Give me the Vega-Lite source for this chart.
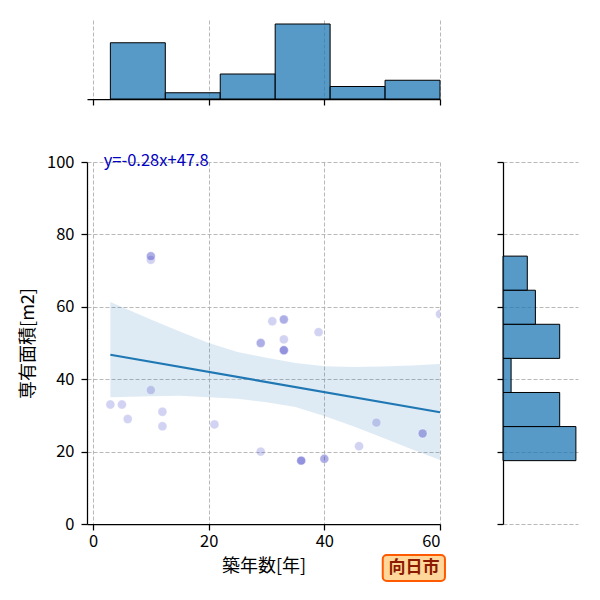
{
  "$schema": "https://vega.github.io/schema/vega-lite/v6.json",
  "padding": {"left": 19, "top": 20, "right": 5, "bottom": 5},
  "bounds": "flush",
  "spacing": 63,
  "config": {
    "font": "Noto Sans CJK JP",
    "view": {"stroke": null},
    "axis": {
      "domainColor": "black",
      "domainWidth": 1.25,
      "tickColor": "black",
      "tickWidth": 1.25,
      "tickSize": 6,
      "labelColor": "black",
      "labelFont": "Noto Sans CJK JP",
      "labelFontSize": 16.5,
      "titleFont": "Noto Sans CJK JP",
      "titleFontSize": 18,
      "titleFontWeight": "normal",
      "titleColor": "black",
      "gridColor": "#b0b0b0",
      "gridDash": [4, 2],
      "gridWidth": 0.9
    }
  },
  "datasets": {
    "pts": [
      {"age": 3, "area": 33}, {"age": 5, "area": 33}, {"age": 6, "area": 29},
      {"age": 10, "area": 74}, {"age": 10, "area": 73}, {"age": 10, "area": 74},
      {"age": 10, "area": 37}, {"age": 12, "area": 31}, {"age": 12, "area": 27},
      {"age": 21, "area": 27.5}, {"age": 29, "area": 20}, {"age": 29, "area": 50},
      {"age": 29, "area": 50}, {"age": 31, "area": 56}, {"age": 33, "area": 56.5},
      {"age": 33, "area": 56.5}, {"age": 33, "area": 51}, {"age": 33, "area": 48},
      {"age": 33, "area": 48}, {"age": 33, "area": 48}, {"age": 36, "area": 17.5},
      {"age": 36, "area": 17.5}, {"age": 36, "area": 17.5}, {"age": 39, "area": 53},
      {"age": 40, "area": 18}, {"age": 40, "area": 18}, {"age": 46, "area": 21.5},
      {"age": 49, "area": 28}, {"age": 57, "area": 25}, {"age": 57, "area": 25},
      {"age": 60, "area": 58}
    ],
    "band": [
      {"age": 3, "lo": 35.0, "hi": 61.3},
      {"age": 10, "lo": 35.3, "hi": 56.5},
      {"age": 15, "lo": 35.4, "hi": 53.2},
      {"age": 20, "lo": 35.0, "hi": 50.0},
      {"age": 25, "lo": 34.6, "hi": 47.5},
      {"age": 30, "lo": 33.6, "hi": 45.9},
      {"age": 35, "lo": 32.3, "hi": 44.5},
      {"age": 40, "lo": 29.8, "hi": 43.6},
      {"age": 45, "lo": 27.0, "hi": 43.4},
      {"age": 50, "lo": 23.9, "hi": 43.5},
      {"age": 55, "lo": 20.7, "hi": 43.8},
      {"age": 60, "lo": 17.7, "hi": 44.2}
    ],
    "histx": [
      {"b0": 3, "b1": 12.5, "n": 9},
      {"b0": 12.5, "b1": 22, "n": 1},
      {"b0": 22, "b1": 31.5, "n": 4},
      {"b0": 31.5, "b1": 41, "n": 12},
      {"b0": 41, "b1": 50.5, "n": 2},
      {"b0": 50.5, "b1": 60, "n": 3}
    ],
    "histy": [
      {"b0": 17.5, "b1": 26.92, "n": 9},
      {"b0": 26.92, "b1": 36.33, "n": 7},
      {"b0": 36.33, "b1": 45.75, "n": 1},
      {"b0": 45.75, "b1": 55.17, "n": 7},
      {"b0": 55.17, "b1": 64.58, "n": 4},
      {"b0": 64.58, "b1": 74, "n": 3}
    ],
    "eq": [{"label": "y=-0.28x+47.8", "age": 1.85, "area": 100.3}],
    "city": [{"name": "向日市", "age": 55.5, "area": -12.15, "a0": 50.1, "a1": 60.86, "r0": -8.56, "r1": -15.75}]
  },
  "vconcat": [
    {
      "width": 353,
      "height": 79,
      "data": {"name": "histx"},
      "mark": {"type": "rect", "fill": "#1f77b4", "fillOpacity": 0.75, "stroke": "black", "strokeWidth": 1},
      "encoding": {
        "x": {
          "field": "b0", "type": "quantitative",
          "scale": {"domain": [-1.04, 60], "nice": false, "zero": false},
          "axis": {"values": [0, 20, 40, 60], "labels": false, "title": null}
        },
        "x2": {"field": "b1"},
        "y": {"field": "n", "type": "quantitative", "scale": {"domain": [0, 12.64], "nice": false}, "axis": null},
        "y2": {"datum": 0}
      }
    },
    {
      "bounds": "flush",
      "spacing": 63,
      "hconcat": [
        {
          "width": 353,
          "height": 362,
          "layer": [
            {
              "data": {"name": "band"},
              "mark": {"type": "area", "color": "#1f77b4", "opacity": 0.15, "clip": true},
              "encoding": {
                "x": {
                  "field": "age", "type": "quantitative",
                  "scale": {"domain": [-1.04, 60], "nice": false, "zero": false},
                  "axis": {"values": [0, 20, 40, 60], "title": "築年数[年]", "labelPadding": 3, "titlePadding": 8}
                },
                "y": {
                  "field": "lo", "type": "quantitative",
                  "scale": {"domain": [0, 100], "nice": false},
                  "axis": {"values": [0, 20, 40, 60, 80, 100], "title": "専有面積[m2]", "labelPadding": 7, "titlePadding": 9}
                },
                "y2": {"field": "hi"}
              }
            },
            {
              "data": {"name": "pts"},
              "mark": {"type": "point", "filled": true, "shape": "circle", "size": 80, "fill": "#2b2bc0", "fillOpacity": 0.21, "stroke": "white", "strokeWidth": 1, "strokeOpacity": 0.3, "clip": true},
              "encoding": {
                "x": {"field": "age", "type": "quantitative"},
                "y": {"field": "area", "type": "quantitative"}
              }
            },
            {
              "data": {"name": "pts"},
              "transform": [{"regression": "area", "on": "age", "extent": [3, 60]}],
              "mark": {"type": "line", "color": "#1f77b4", "strokeWidth": 2.2},
              "encoding": {
                "x": {"field": "age", "type": "quantitative"},
                "y": {"field": "area", "type": "quantitative"}
              }
            },
            {
              "data": {"name": "eq"},
              "mark": {"type": "text", "align": "left", "baseline": "middle", "fontSize": 16.5, "color": "#0000c0"},
              "encoding": {
                "x": {"field": "age", "type": "quantitative"},
                "y": {"field": "area", "type": "quantitative"},
                "text": {"field": "label"}
              }
            },
            {
              "data": {"name": "city"},
              "mark": {"type": "rect", "fill": "#ffd79a", "stroke": "#ff5a00", "strokeWidth": 2, "cornerRadius": 4},
              "encoding": {
                "x": {"field": "a0", "type": "quantitative"},
                "x2": {"field": "a1"},
                "y": {"field": "r0", "type": "quantitative"},
                "y2": {"field": "r1"}
              }
            },
            {
              "data": {"name": "city"},
              "mark": {"type": "text", "align": "center", "baseline": "middle", "fontSize": 17, "fontWeight": "bold", "color": "#8b1a00"},
              "encoding": {
                "x": {"field": "age", "type": "quantitative"},
                "y": {"field": "area", "type": "quantitative"},
                "text": {"field": "name"}
              }
            }
          ]
        },
        {
          "width": 75,
          "height": 362,
          "data": {"name": "histy"},
          "mark": {"type": "rect", "fill": "#1f77b4", "fillOpacity": 0.75, "stroke": "black", "strokeWidth": 1},
          "encoding": {
            "y": {
              "field": "b0", "type": "quantitative",
              "scale": {"domain": [0, 100], "nice": false},
              "axis": {"values": [0, 20, 40, 60, 80, 100], "labels": false, "title": null}
            },
            "y2": {"field": "b1"},
            "x": {"field": "n", "type": "quantitative", "scale": {"domain": [0, 9.26], "nice": false}, "axis": null},
            "x2": {"datum": 0}
          }
        }
      ]
    }
  ]
}
